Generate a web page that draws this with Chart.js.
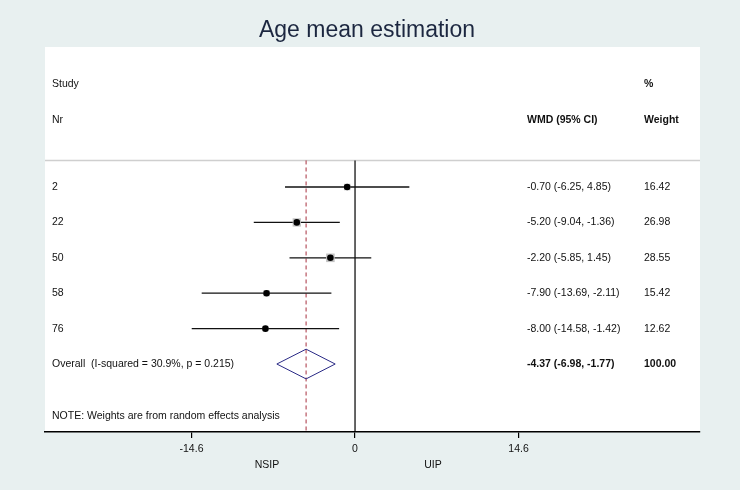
<!DOCTYPE html>
<html>
<head>
<meta charset="utf-8">
<script src="https://cdn.jsdelivr.net/npm/chart.js@4"></script>
<style>
    html, body { margin: 0; padding: 0; background: #e8f0f0; }
    canvas { display: block; }
</style>
</head>
<body>
<canvas id="chart" width="740" height="490"></canvas>
<script>
// Study data
const studies = ["2", "22", "50", "58", "76"];
const wmd = [-0.70, -5.20, -2.20, -7.90, -8.00];
const ciLow = [-6.25, -9.04, -5.85, -13.69, -14.58];
const ciHigh = [4.85, -1.36, 1.45, -2.11, -1.42];
const weights = [16.42, 26.98, 28.55, 15.42, 12.62];

// Pooled estimate
const overallLabel = "Overall  (I-squared = 30.9%, p = 0.215)";
const overallWmd = -4.37;
const overallLow = -6.98;
const overallHigh = -1.77;
const overallWeight = 100.00;

const xTicks = [-14.6, 0, 14.6];

const FONT = "'Liberation Sans', Arial, sans-serif";

// Row positions on the (hidden) y scale
const studyRows = studies.map((s, i) => i + 1);
const overallRow = studies.length + 1;
const headerRows = [-1.9, -0.9];
const separatorRow = 0.25;
const noteRow = 7.47;
const yMin = -2.955;
const yMax = 7.92;

const fmt = (v) => v.toFixed(2);

// Confidence interval lines, one dataset per study
const ciDatasets = studies.map((s, i) => ({
    type: "line",
    data: [
        { x: ciLow[i], y: studyRows[i] },
        { x: ciHigh[i], y: studyRows[i] },
    ],
    borderColor: "#111",
    borderWidth: 1.3,
    pointRadius: 0,
    order: 2,
}));

// Grey weight boxes, side grows with sqrt(weight)
const boxDataset = {
    type: "scatter",
    data: wmd.map((v, i) => ({ x: v, y: studyRows[i] })),
    pointStyle: "rect",
    pointRadius: weights.map((w) => (1.6 * Math.sqrt(w)) / Math.SQRT2),
    backgroundColor: "#c2c2c2",
    borderWidth: 0,
    order: 1,
};

const dotDataset = {
    type: "scatter",
    data: wmd.map((v, i) => ({ x: v, y: studyRows[i] })),
    pointStyle: "circle",
    pointRadius: 3.3,
    backgroundColor: "#000",
    borderWidth: 0,
    order: 0,
};

const diamondHalf = 0.42;
const diamondDataset = {
    type: "line",
    data: [
        { x: overallLow, y: overallRow },
        { x: overallWmd, y: overallRow - diamondHalf },
        { x: overallHigh, y: overallRow },
        { x: overallWmd, y: overallRow + diamondHalf },
        { x: overallLow, y: overallRow },
    ],
    borderColor: "#2a2a86",
    borderWidth: 1,
    pointRadius: 0,
    order: 0,
};

// Red dashed line at the pooled estimate
const pooledLine = {
    type: "line",
    data: [
        { x: overallWmd, y: separatorRow },
        { x: overallWmd, y: yMax },
    ],
    borderColor: "#a8303e",
    borderWidth: 1,
    borderDash: [4, 3],
    pointRadius: 0,
    order: 3,
};

// Line of no effect
const nullLine = {
    type: "line",
    data: [
        { x: 0, y: separatorRow },
        { x: 0, y: yMax },
    ],
    borderColor: "#000",
    borderWidth: 1.2,
    pointRadius: 0,
    order: 3,
};

const forestPlugin = {
    id: "forest",
    beforeDraw(chart) {
        const { ctx, chartArea, scales } = chart;
        ctx.save();
        ctx.fillStyle = "#e8f0f0";
        ctx.fillRect(0, 0, chart.width, chart.height);
        ctx.fillStyle = "#fff";
        ctx.fillRect(chartArea.left, chartArea.top,
            chartArea.right - chartArea.left, chartArea.bottom - chartArea.top);

        // separator under the header
        const sy = scales.y.getPixelForValue(separatorRow);
        ctx.strokeStyle = "#cfcfcf";
        ctx.lineWidth = 1.5;
        ctx.beginPath();
        ctx.moveTo(chartArea.left, sy);
        ctx.lineTo(chartArea.right, sy);
        ctx.stroke();
        ctx.restore();
    },
    afterDraw(chart) {
        const { ctx, chartArea, scales } = chart;
        const y = scales.y;
        const colLabel = chartArea.left + 7;
        const colWmd = 527;
        const colWeight = 644;

        ctx.save();
        ctx.textBaseline = "middle";
        ctx.textAlign = "center";

        // title
        ctx.fillStyle = "#1c2740";
        ctx.font = "23px " + FONT;
        ctx.fillText("Age mean estimation", 367, 31);

        ctx.textAlign = "left";
        ctx.fillStyle = "#111";
        ctx.font = "10.5px " + FONT;
        ctx.fillText("Study", colLabel, y.getPixelForValue(headerRows[0]));
        ctx.fillText("Nr", colLabel, y.getPixelForValue(headerRows[1]));

        ctx.font = "bold 10.5px " + FONT;
        ctx.fillText("%", colWeight, y.getPixelForValue(headerRows[0]));
        ctx.fillText("WMD (95% CI)", colWmd, y.getPixelForValue(headerRows[1]));
        ctx.fillText("Weight", colWeight, y.getPixelForValue(headerRows[1]));

        ctx.font = "10.5px " + FONT;
        studies.forEach((s, i) => {
            const py = y.getPixelForValue(studyRows[i]);
            ctx.fillText(s, colLabel, py);
            ctx.fillText(fmt(wmd[i]) + " (" + fmt(ciLow[i]) + ", " + fmt(ciHigh[i]) + ")", colWmd, py);
            ctx.fillText(fmt(weights[i]), colWeight, py);
        });

        const oy = y.getPixelForValue(overallRow);
        ctx.fillText(overallLabel, colLabel, oy);
        ctx.font = "bold 10.5px " + FONT;
        ctx.fillText(fmt(overallWmd) + " (" + fmt(overallLow) + ", " + fmt(overallHigh) + ")", colWmd, oy);
        ctx.fillText(fmt(overallWeight), colWeight, oy);

        ctx.font = "10.5px " + FONT;
        ctx.fillText("NOTE: Weights are from random effects analysis", colLabel, y.getPixelForValue(noteRow));

        // favours labels under the axis
        ctx.textAlign = "center";
        ctx.fillText("NSIP", 267, 465);
        ctx.fillText("UIP", 433, 465);
        ctx.restore();
    },
};

new Chart(document.querySelector("#chart"), {
    type: "scatter",
    data: {
        datasets: [...ciDatasets, boxDataset, dotDataset, diamondDataset, pooledLine, nullLine],
    },
    options: {
        responsive: false,
        animation: false,
        devicePixelRatio: 1,
        layout: {
            padding: { left: 45, right: 40, top: 47, bottom: 0 },
        },
        plugins: {
            legend: { display: false },
            tooltip: { enabled: false },
            title: { display: false },
        },
        scales: {
            x: {
                type: "linear",
                min: -27.68,
                max: 30.8,
                afterBuildTicks: (scale) => {
                    scale.ticks = xTicks.map((v) => ({ value: v }));
                },
                afterFit: (scale) => {
                    scale.height = 58;
                },
                ticks: {
                    color: "#111",
                    padding: 5,
                    font: { family: FONT, size: 10.5 },
                    callback: (v) => String(v),
                },
                grid: {
                    drawOnChartArea: false,
                    drawTicks: true,
                    tickLength: 6,
                    color: "#000",
                    lineWidth: 1.2,
                },
                border: { display: true, color: "#000", width: 1.5 },
            },
            y: {
                type: "linear",
                display: false,
                reverse: true,
                min: yMin,
                max: yMax,
            },
        },
    },
    plugins: [forestPlugin],
});
</script>
</body>
</html>
